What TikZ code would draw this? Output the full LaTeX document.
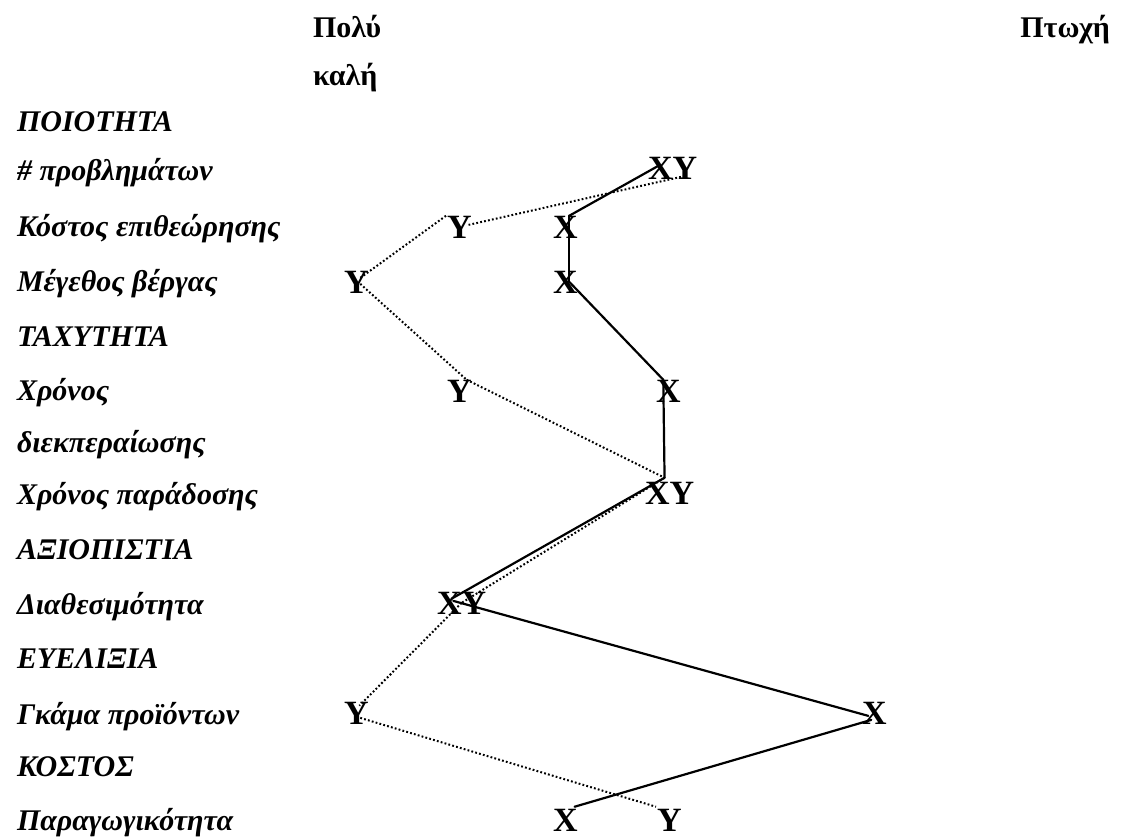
\documentclass[tikz,border=0pt]{standalone}
\usepackage{fontspec}
\setmainfont{Liberation Serif}
\begin{document}
\begin{tikzpicture}[x=1pt,y=-1pt,
  every node/.style={inner sep=0pt, outer sep=0pt, anchor=base west},
  lbl/.style={font=\fontsize{30}{36}\selectfont\bfseries\itshape},
  head/.style={font=\fontsize{30}{36}\selectfont\bfseries},
  mk/.style={font=\fontsize{34}{40}\selectfont\bfseries},
  prof/.style={line width=2.2pt, line cap=round},
  alt/.style={line width=2pt, dash pattern=on 1.8pt off 2.2pt}]
\fill[white] (0,0) rectangle (1128,839);
\useasboundingbox (0,0) rectangle (1128,839);

% scale headings
\node[head] (good1) at (313,37) {Πολύ};
\node[head] (good2) at (313,85) {καλή};
\node[head, anchor=base east] (poor) at (1110,37) {Πτωχή};

% criteria
\node[lbl] (c1)  at (17,131) {ΠΟΙΟΤΗΤΑ};
\node[lbl] (c2)  at (17,180) {\# προβλημάτων};
\node[lbl] (c3)  at (17,236) {Κόστος επιθεώρησης};
\node[lbl] (c4)  at (17,291) {Μέγεθος βέργας};
\node[lbl] (c5)  at (17,346) {ΤΑΧΥΤΗΤΑ};
\node[lbl] (c6)  at (17,400) {Χρόνος};
\node[lbl] (c7)  at (17,452) {διεκπεραίωσης};
\node[lbl] (c8)  at (17,504) {Χρόνος παράδοσης};
\node[lbl] (c9)  at (17,559) {ΑΞΙΟΠΙΣΤΙΑ};
\node[lbl] (c10) at (17,614) {Διαθεσιμότητα};
\node[lbl] (c11) at (17,668) {ΕΥΕΛΙΞΙΑ};
\node[lbl] (c12) at (17,724) {Γκάμα προϊόντων};
\node[lbl] (c13) at (17,776) {ΚΟΣΤΟΣ};
\node[lbl] (c14) at (17,830) {Παραγωγικότητα};

% X / Y ratings
\node[mk] (x1) at (648,179) {X};
\node[mk] (y1) at (x1.base east) {Y};
\node[mk] (yK) at (447,238) {Y};
\node[mk] (xK) at (553,238) {X};
\node[mk] (yM) at (344,293) {Y};
\node[mk] (xM) at (553,293) {X};
\node[mk] (yC) at (447,402) {Y};
\node[mk] (xC) at (656,402) {X};
\node[mk] (xP) at (645,504) {X};
\node[mk] (yP) at (xP.base east) {Y};
\node[mk] (xD) at (437,614) {X};
\node[mk] (yD) at (xD.base east) {Y};
\node[mk] (yG) at (344,724) {Y};
\node[mk] (xG) at (862,724) {X};
\node[mk] (xB) at (553,831) {X};
\node[mk] (yB) at (657,831) {Y};

% X profile
\draw[prof] ([xshift=-2pt,yshift=2pt]x1.center) -- ([xshift=4pt]xK.north);
\draw[prof] ([xshift=4pt]xK.north) -- ([xshift=4pt]xM.center);
\draw[prof] ([xshift=4pt]xM.center) -- ([xshift=-5pt]xC.north);
\draw[prof] ([xshift=-5pt]xC.north) -- ([xshift=-5pt,yshift=4pt]xP.north east);
\draw[prof] ([xshift=-5pt,yshift=4pt]xP.north east) -- ([xshift=2pt,yshift=4pt]xD.center);
\draw[prof] ([xshift=4pt,yshift=2pt]xD.center) -- ([xshift=-6pt,yshift=-3pt]xG.center);
\draw[prof] ([xshift=-3pt,yshift=-7pt]xG.center) -- ([xshift=-3pt,yshift=2pt]xB.north east);

% Y profile
\draw[alt] ([yshift=3pt]y1.south) -- ([xshift=-3pt,yshift=2pt]yK.east);
\draw[alt] ([xshift=-1pt]yK.north west) -- ([xshift=4pt,yshift=4pt]yM.center);
\draw[alt] ([xshift=4pt,yshift=-2pt]yM.center) -- ([xshift=-5pt]yC.north east);
\draw[alt] ([xshift=-5pt]yC.north east) -- ([xshift=-5pt,yshift=4pt]yP.north west);
\draw[alt] ([xshift=-5pt,yshift=4pt]yP.north west) -- (yD.west);
\draw[alt] (yD.west) -- ([xshift=3pt,yshift=-4pt]yG.north);
\draw[alt] ([xshift=4pt,yshift=-5pt]yG.center) -- ([xshift=-1pt,yshift=2pt]yB.north west);
\end{tikzpicture}
\end{document}
